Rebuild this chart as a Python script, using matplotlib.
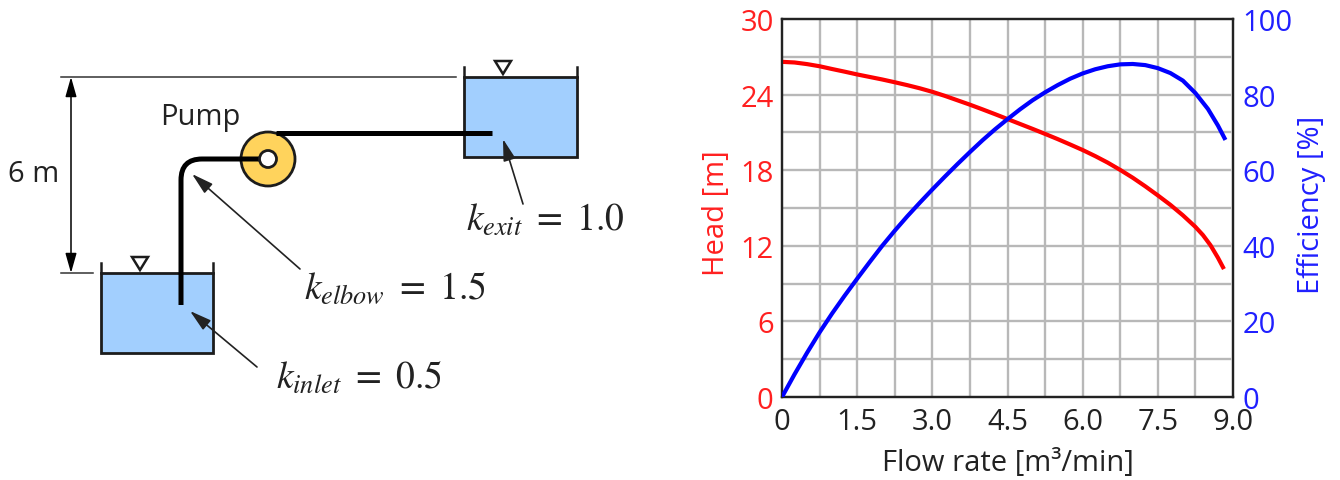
import matplotlib
matplotlib.use("Agg")
import matplotlib.pyplot as plt
from matplotlib.patches import Rectangle, Circle, Polygon, PathPatch
from matplotlib.path import Path

plt.rcParams['font.family'] = ['Open Sans', 'DejaVu Sans']
plt.rcParams['mathtext.fontset'] = 'stix'

# ---- chart data ----
flow_head = [0, .25, .5, .75, 1, 1.25, 1.5, 1.75, 2, 2.25, 2.5, 2.75, 3, 3.25, 3.5, 3.75, 4, 4.25, 4.5, 4.75, 5, 5.25, 5.5, 5.75, 6, 6.25, 6.5, 6.75, 7, 7.25, 7.5, 7.75, 8, 8.25, 8.4, 8.55, 8.7, 8.8]
head = [26.6, 26.55, 26.42, 26.25, 26.03, 25.82, 25.6, 25.4, 25.2, 24.98, 24.75, 24.5, 24.22, 23.9, 23.55, 23.2, 22.83, 22.45, 22.06, 21.67, 21.28, 20.88, 20.47, 20.04, 19.6, 19.12, 18.6, 18.02, 17.4, 16.72, 16.0, 15.25, 14.42, 13.5, 12.85, 12.05, 11.05, 10.3]
flow_eff = [0, .25, .5, .75, 1, 1.25, 1.5, 1.75, 2, 2.25, 2.5, 2.75, 3, 3.25, 3.5, 3.75, 4, 4.25, 4.5, 4.75, 5, 5.25, 5.5, 5.75, 6, 6.25, 6.5, 6.75, 7, 7.25, 7.5, 7.75, 8, 8.25, 8.5, 8.7, 8.83]
eff = [0, 6, 11.7, 17.1, 22.1, 26.8, 31.3, 35.7, 40, 44, 47.8, 51.4, 54.9, 58.3, 61.6, 64.8, 67.9, 70.8, 73.5, 76.1, 78.5, 80.6, 82.5, 84.2, 85.6, 86.7, 87.5, 88.0, 88.1, 87.8, 87.0, 85.7, 83.7, 80.4, 76.2, 71.8, 68.5]
x_ticks = [0, 1.5, 3.0, 4.5, 6.0, 7.5, 9.0]
x_labels = ['0', '1.5', '3.0', '4.5', '6.0', '7.5', '9.0']
head_ticks = [0, 6, 12, 18, 24, 30]
eff_ticks = [0, 20, 40, 60, 80, 100]
x_grid = [0.75 * i for i in range(1, 12)]
y_grid = [3 * i for i in range(1, 10)]

# ---- schematic data (pixel frame of the figure) ----
tank_top = (464, 78, 113, 80)
tank_low = (101, 274, 112, 80)
pump_c = (268, 160)
labels = [(r'$k_{exit}\ =\ 1.0$', 466, 221), (r'$k_{elbow}\ =\ 1.5$', 304, 289), (r'$k_{inlet}\ =\ 0.5$', 276, 379)]
arrows = [((523, 205), (503, 140)), ((300, 270), (192, 175)), ((257, 368), (190, 312))]

W, H = 1340, 481
fig = plt.figure(figsize=(W / 100, H / 100), dpi=100, facecolor='white')

bg = fig.add_axes([0, 0, 1, 1])
bg.set_xlim(0, W)
bg.set_ylim(H, 0)
bg.axis('off')

dark = '#1c1c1c'
for (x, y, w, h) in (tank_top, tank_low):
    bg.add_patch(Rectangle((x, y), w, h, fc='#A2CFFE', ec=dark, lw=2))
    bg.plot([x, x], [y, y - 10], color=dark, lw=1.8)
    bg.plot([x + w, x + w], [y, y - 10], color=dark, lw=1.8)
    cx = x + 39
    bg.add_patch(Polygon([(cx - 8, y - 16), (cx + 8, y - 16), (cx, y - 3)], fc='white', ec=dark, lw=1.8))

bg.plot([61, 456], [78, 78], color='#333333', lw=1.1)
bg.plot([61, 93], [274, 274], color='#333333', lw=1.1)
bg.annotate('', xy=(71, 78), xytext=(71, 274),
            arrowprops=dict(arrowstyle='<|-|>,head_length=0.6,head_width=0.17', color='black', lw=1.1,
                            mutation_scale=20, shrinkA=0, shrinkB=0))

bg.add_patch(Circle(pump_c, 27, fc='#FFD35C', ec=dark, lw=2, zorder=3))
pipe = Path([(181, 306), (181, 181), (181, 160), (202, 160), (262, 160)],
            [Path.MOVETO, Path.LINETO, Path.CURVE3, Path.CURVE3, Path.LINETO])
bg.add_patch(PathPatch(pipe, fc='none', ec='black', lw=3.6, capstyle='butt', zorder=4))
bg.plot([276, 492], [134, 134], color='black', lw=3.6, solid_capstyle='butt', zorder=4)
bg.add_patch(Circle(pump_c, 8.5, fc='white', ec=dark, lw=2, zorder=5))

bg.text(34, 175, '6 m', fontsize=21, ha='center', va='center', color='#222222')
bg.text(200, 118, 'Pump', fontsize=21, ha='center', va='center', color='#222222')
for s, x, y in labels:
    bg.text(x, y, s, fontsize=27, ha='left', va='center', color='#222222')
for start, end in arrows:
    bg.annotate('', xy=end, xytext=start,
                arrowprops=dict(arrowstyle='-|>,head_length=0.6,head_width=0.17', color='#222222', lw=1.2,
                                mutation_scale=22, shrinkA=0, shrinkB=0))

L, R, T, B = 782, 1233, 20, 398
ax = fig.add_axes([L / W, 1 - B / H, (R - L) / W, (B - T) / H])
ax.patch.set_alpha(0)
ax.set_xlim(0, 9)
ax.set_ylim(0, 30)
for v in x_grid:
    ax.axvline(v, color='#b8b8b8', lw=1.7, zorder=1)
for v in y_grid:
    ax.axhline(v, color='#b8b8b8', lw=1.7, xmax=0.993, zorder=1)
ax.plot(flow_head, head, color='#FF0000', lw=3, zorder=3, solid_joinstyle='round')
ax.set_xticks(x_ticks, x_labels)
ax.set_yticks(head_ticks)
ax.tick_params(axis='x', length=0, pad=7, labelsize=21, labelcolor='#222222')
ax.tick_params(axis='y', length=0, pad=6, labelsize=21, labelcolor='#FF2020')
ax.set_xlabel('Flow rate [m³/min]', fontsize=21, color='#222222', labelpad=9)
ax.set_ylabel('Head [m]', fontsize=21, color='#FF2020', labelpad=7, y=0.49)

ax2 = ax.twinx()
ax2.set_ylim(0, 100)
ax2.plot(flow_eff, eff, color='#0000FF', lw=3, zorder=4, solid_joinstyle='round')
ax2.set_yticks(eff_ticks)
ax2.tick_params(axis='y', length=0, pad=7, labelsize=21, labelcolor='#2020FF')
ax2.set_ylabel('Efficiency [%]', fontsize=21, color='#2020FF', labelpad=3, y=0.51)
for a in (ax, ax2):
    for sp in a.spines.values():
        sp.set_color('#222222')
        sp.set_linewidth(1.6)

fig.savefig('out.png', dpi=100)
